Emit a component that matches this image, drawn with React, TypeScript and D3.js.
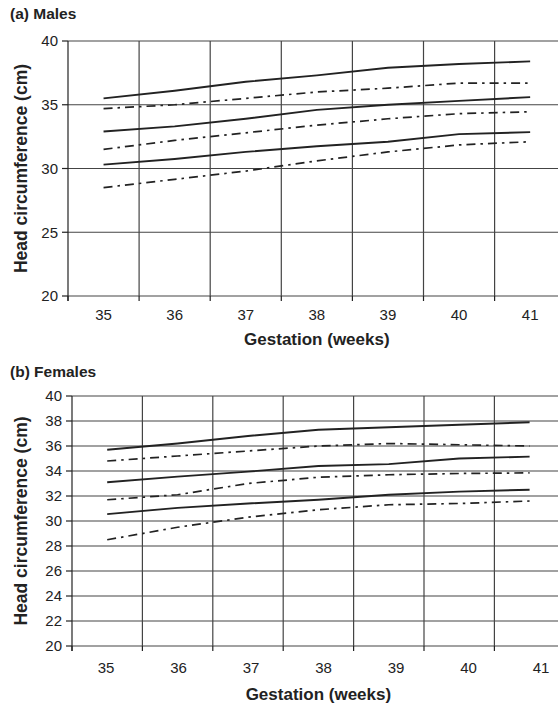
import React from "react";
import * as d3 from "d3";

const weeks = [35, 36, 37, 38, 39, 40, 41];

const maleTicks = [20, 25, 30, 35, 40];
const femaleTicks = [20, 22, 24, 26, 28, 30, 32, 34, 36, 38, 40];

// Males
const maleUpperSolid = [35.5, 36.1, 36.8, 37.3, 37.9, 38.2, 38.4];
const maleUpperDash = [34.7, 35.0, 35.5, 36.0, 36.3, 36.7, 36.7];
const maleMidSolid = [32.9, 33.3, 33.9, 34.6, 35.0, 35.3, 35.6];
const maleMidDash = [31.5, 32.2, 32.8, 33.4, 33.9, 34.3, 34.45];
const maleLowSolid = [30.3, 30.75, 31.3, 31.75, 32.1, 32.7, 32.85];
const maleLowDash = [28.5, 29.15, 29.8, 30.6, 31.3, 31.85, 32.1];

// Females
const femaleUpperSolid = [35.7, 36.2, 36.8, 37.3, 37.5, 37.7, 37.9];
const femaleUpperDash = [34.8, 35.2, 35.6, 36.0, 36.2, 36.1, 36.0];
const femaleMidSolid = [33.1, 33.55, 33.95, 34.4, 34.55, 35.0, 35.15];
const femaleMidDash = [31.7, 32.1, 33.0, 33.5, 33.7, 33.8, 33.85];
const femaleLowSolid = [30.55, 31.05, 31.4, 31.7, 32.1, 32.35, 32.5];
const femaleLowDash = [28.5, 29.5, 30.3, 30.9, 31.3, 31.4, 31.6];

const FONT = "'Liberation Sans', Arial, Helvetica, sans-serif";
const W = 558;
const INK = "#222";
const GRID = "#444";

type Series = { values: number[]; dashed: boolean };

type PanelProps = {
  title: string;
  titleY: number;
  top: number;
  bottom: number;
  left: number;
  step: number;
  ticks: number[];
  series: Series[];
  labelRange?: [number, number];
  tickLabelY: number;
  axisTitleY: number;
};

function Panel(p: PanelProps) {
  const x = d3
    .scaleBand<string>()
    .domain(weeks.map(String))
    .range([p.left, p.left + p.step * weeks.length])
    .padding(0);
  const cx = (w: number) => (x(String(w)) as number) + x.bandwidth() / 2;
  const y = d3.scaleLinear().domain([20, 40]).range([p.bottom, p.top]);
  const labelX = p.labelRange
    ? d3.scalePoint<number>().domain(weeks).range(p.labelRange)
    : null;
  const lx = (w: number) => (labelX ? (labelX(w) as number) : cx(w));

  const line = d3
    .line<number>()
    .x((_, i) => cx(weeks[i]))
    .y((d) => y(d));

  const boundaries = weeks.map((w) => x(String(w)) as number);
  const plotCenter = p.left + (p.step * weeks.length) / 2;

  return (
    <g>
      <text x={10} y={p.titleY} fontFamily={FONT} fontWeight="bold" fontSize={15.5} fill={INK}>
        {p.title}
      </text>
      {p.ticks.map((t) => (
        <line key={"h" + t} x1={p.left} x2={W} y1={y(t)} y2={y(t)} stroke={GRID} strokeWidth={1.2} />
      ))}
      {boundaries.slice(1).map((b, i) => (
        <line key={"v" + i} x1={b} x2={b} y1={y(40)} y2={y(20)} stroke={GRID} strokeWidth={1.2} />
      ))}
      <line x1={p.left} x2={p.left} y1={y(40)} y2={y(20) + 5} stroke={INK} strokeWidth={1.2} />
      {boundaries.map((b, i) => (
        <line key={"xt" + i} x1={b} x2={b} y1={y(20)} y2={y(20) + 5} stroke={INK} strokeWidth={1.2} />
      ))}
      {p.ticks.map((t) => (
        <g key={"yt" + t}>
          <line x1={p.left - 6} x2={p.left} y1={y(t)} y2={y(t)} stroke={INK} strokeWidth={1.2} />
          <text
            x={p.left - 10}
            y={y(t)}
            dy="0.35em"
            textAnchor="end"
            fontFamily={FONT}
            fontSize={15}
            fill={INK}
          >
            {t}
          </text>
        </g>
      ))}
      {weeks.map((w) => (
        <text key={"xl" + w} x={lx(w)} y={p.tickLabelY} textAnchor="middle" fontFamily={FONT} fontSize={15} fill={INK}>
          {w}
        </text>
      ))}
      <text x={plotCenter} y={p.axisTitleY} textAnchor="middle" fontFamily={FONT} fontWeight="bold" fontSize={17} fill={INK}>
        Gestation (weeks)
      </text>
      <text
        transform={`translate(27,${(y(20) + y(40)) / 2}) rotate(-90)`}
        textAnchor="middle"
        fontFamily={FONT}
        fontWeight="bold"
        fontSize={17.5}
        fill={INK}
      >
        Head circumference (cm)
      </text>
      {p.series.map((s, i) => (
        <path
          key={"s" + i}
          d={line(s.values) || ""}
          fill="none"
          stroke={INK}
          strokeWidth={s.dashed ? 1.7 : 1.9}
          strokeDasharray={s.dashed ? "9,5,2.5,5" : undefined}
        />
      ))}
    </g>
  );
}

export default function App() {
  const maleSeries: Series[] = [
    { values: maleUpperSolid, dashed: false },
    { values: maleUpperDash, dashed: true },
    { values: maleMidSolid, dashed: false },
    { values: maleMidDash, dashed: true },
    { values: maleLowSolid, dashed: false },
    { values: maleLowDash, dashed: true },
  ];
  const femaleSeries: Series[] = [
    { values: femaleUpperSolid, dashed: false },
    { values: femaleUpperDash, dashed: true },
    { values: femaleMidSolid, dashed: false },
    { values: femaleMidDash, dashed: true },
    { values: femaleLowSolid, dashed: false },
    { values: femaleLowDash, dashed: true },
  ];
  return (
    <svg
      width={W}
      height={706}
      style={{ position: "absolute", left: 0, top: 0, background: "#fff" }}
    >
      <Panel
        title="(a) Males"
        titleY={19}
        top={41}
        bottom={296}
        left={68}
        step={71.1}
        ticks={maleTicks}
        series={maleSeries}
        tickLabelY={320}
        axisTitleY={345}
      />
      <Panel
        title="(b) Females"
        titleY={376.5}
        top={396}
        bottom={646}
        left={72}
        step={70.4}
        ticks={femaleTicks}
        series={femaleSeries}
        labelRange={[106, 541]}
        tickLabelY={673}
        axisTitleY={700}
      />
    </svg>
  );
}
